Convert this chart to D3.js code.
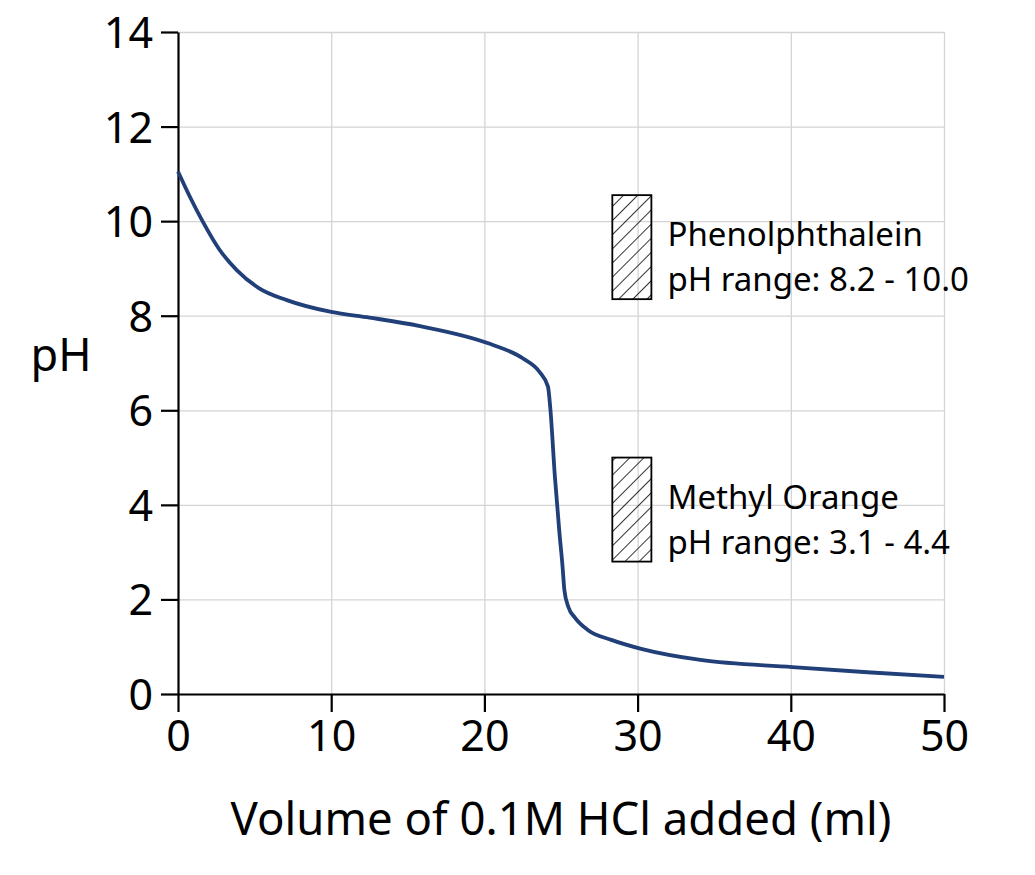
<!DOCTYPE html>
<html>
<head>
<meta charset="utf-8">
<script src="https://cdn.jsdelivr.net/npm/d3@7"></script>
<style>
  body { margin: 0; background: #fff; }
  svg { font-family: "Noto Sans", "Open Sans", sans-serif; }
  .grid line { stroke: #d4d4d4; stroke-width: 1.3; }
  .grid .domain { display: none; }
</style>
</head>
<body>
<svg id="chart" width="1035" height="875"></svg>
<script>

// titration curve
let volume = [0, 0.8, 1.6, 2.7, 3.85, 5.3, 7.1, 10, 12.5, 15.8, 20.4, 22.5, 23.6, 24.15, 24.3, 24.6, 24.9, 25.1, 25.22, 25.48, 25.92, 26.77, 28.33, 30.3, 34.1, 40.1, 45, 50];
let ph     = [11.05, 10.5, 10.0, 9.4, 8.96, 8.58, 8.33, 8.08, 7.96, 7.78, 7.40, 7.10, 6.81, 6.5, 6.05, 4.6, 3.4, 2.7, 2.2, 1.84, 1.61, 1.35, 1.14, 0.95, 0.72, 0.57, 0.46, 0.36];

let xTicks = [0, 10, 20, 30, 40, 50];
let yTicks = [0, 2, 4, 6, 8, 10, 12, 14];

// indicator legend swatches
let indicators = ["Phenolphthalein", "Methyl Orange"];
let indicatorRanges = ["pH range: 8.2 - 10.0", "pH range: 3.1 - 4.4"];
let swatchTop = [10.55, 5.0];
let swatchBottom = [8.35, 2.8];

let margin = {top: 32, left: 178, right: 91, bottom: 181};
let width = 1035 - margin.left - margin.right,
    height = 875 - margin.top - margin.bottom;

let chart = d3.select("#chart");

let x = d3.scaleLinear().domain([0, 50]).range([0, width]);
let y = d3.scaleLinear().domain([0, 14]).range([height, 0]);

let g = chart.append("g")
  .attr("transform", `translate(${margin.left},${margin.top})`);

// hatch pattern
let defs = chart.append("defs");
defs.append("pattern")
  .attr("id", "hatch")
  .attr("patternUnits", "userSpaceOnUse")
  .attr("width", 10)
  .attr("height", 10)
  .attr("patternTransform", "rotate(45)")
  .append("line")
  .attr("x1", 0).attr("y1", 0)
  .attr("x2", 0).attr("y2", 10)
  .attr("stroke", "#000")
  .attr("stroke-width", 1.6);

// grid
g.append("g")
  .attr("class", "grid")
  .attr("transform", `translate(0,${height})`)
  .call(d3.axisBottom(x).tickValues(xTicks).tickSize(-height).tickFormat(""));
g.append("g")
  .attr("class", "grid")
  .call(d3.axisLeft(y).tickValues(yTicks).tickSize(-width).tickFormat(""));

// axes
let xAxis = g.append("g")
  .attr("transform", `translate(0,${height})`)
  .call(d3.axisBottom(x).tickValues(xTicks).tickSize(18).tickPadding(8).tickSizeOuter(0));
let yAxis = g.append("g")
  .call(d3.axisLeft(y).tickValues(yTicks).tickSize(17).tickPadding(8).tickSizeOuter(0));

[xAxis, yAxis].forEach((a) => {
  a.select(".domain").attr("stroke", "#000").attr("stroke-width", 2.2);
  a.selectAll(".tick line").attr("stroke", "#000").attr("stroke-width", 2.2);
  a.selectAll(".tick text")
    .attr("fill", "#000")
    .style("font-size", "43px")
    .style("font-family", "'Noto Sans', 'Open Sans', sans-serif");
});
yAxis.selectAll(".tick text").attr("dy", "0.36em");

// swatches and labels
indicators.forEach((name, i) => {
  g.append("rect")
    .attr("x", x(28.35))
    .attr("y", y(swatchTop[i]))
    .attr("width", x(30.9) - x(28.35))
    .attr("height", y(swatchBottom[i]) - y(swatchTop[i]))
    .attr("fill", "url(#hatch)")
    .attr("stroke", "#000")
    .attr("stroke-width", 1.8);

  let mid = (y(swatchTop[i]) + y(swatchBottom[i])) / 2;
  let label = g.append("text")
    .attr("x", x(31.95))
    .attr("y", mid - 1)
    .attr("font-size", 33);
  label.append("tspan")
    .text(name);
  label.append("tspan")
    .attr("x", x(31.95))
    .attr("dy", 45)
    .text(indicatorRanges[i]);
});

// curve
let points = volume.map((v, i) => [v, ph[i]]);
let line = d3.line()
  .x((d) => x(d[0]))
  .y((d) => y(d[1]))
  .curve(d3.curveMonotoneX);

g.append("path")
  .datum(points)
  .attr("d", line)
  .attr("fill", "none")
  .attr("stroke", "#213f78")
  .attr("stroke-width", 3.8)
  .attr("stroke-linejoin", "round");

// axis titles
chart.append("text")
  .attr("x", margin.left + width / 2)
  .attr("y", 835)
  .attr("text-anchor", "middle")
  .attr("font-size", 45.5)
  .text("Volume of 0.1M HCl added (ml)");

chart.append("text")
  .attr("x", 61)
  .attr("y", 371)
  .attr("text-anchor", "middle")
  .attr("font-size", 45)
  .text("pH");

</script>
</body>
</html>
